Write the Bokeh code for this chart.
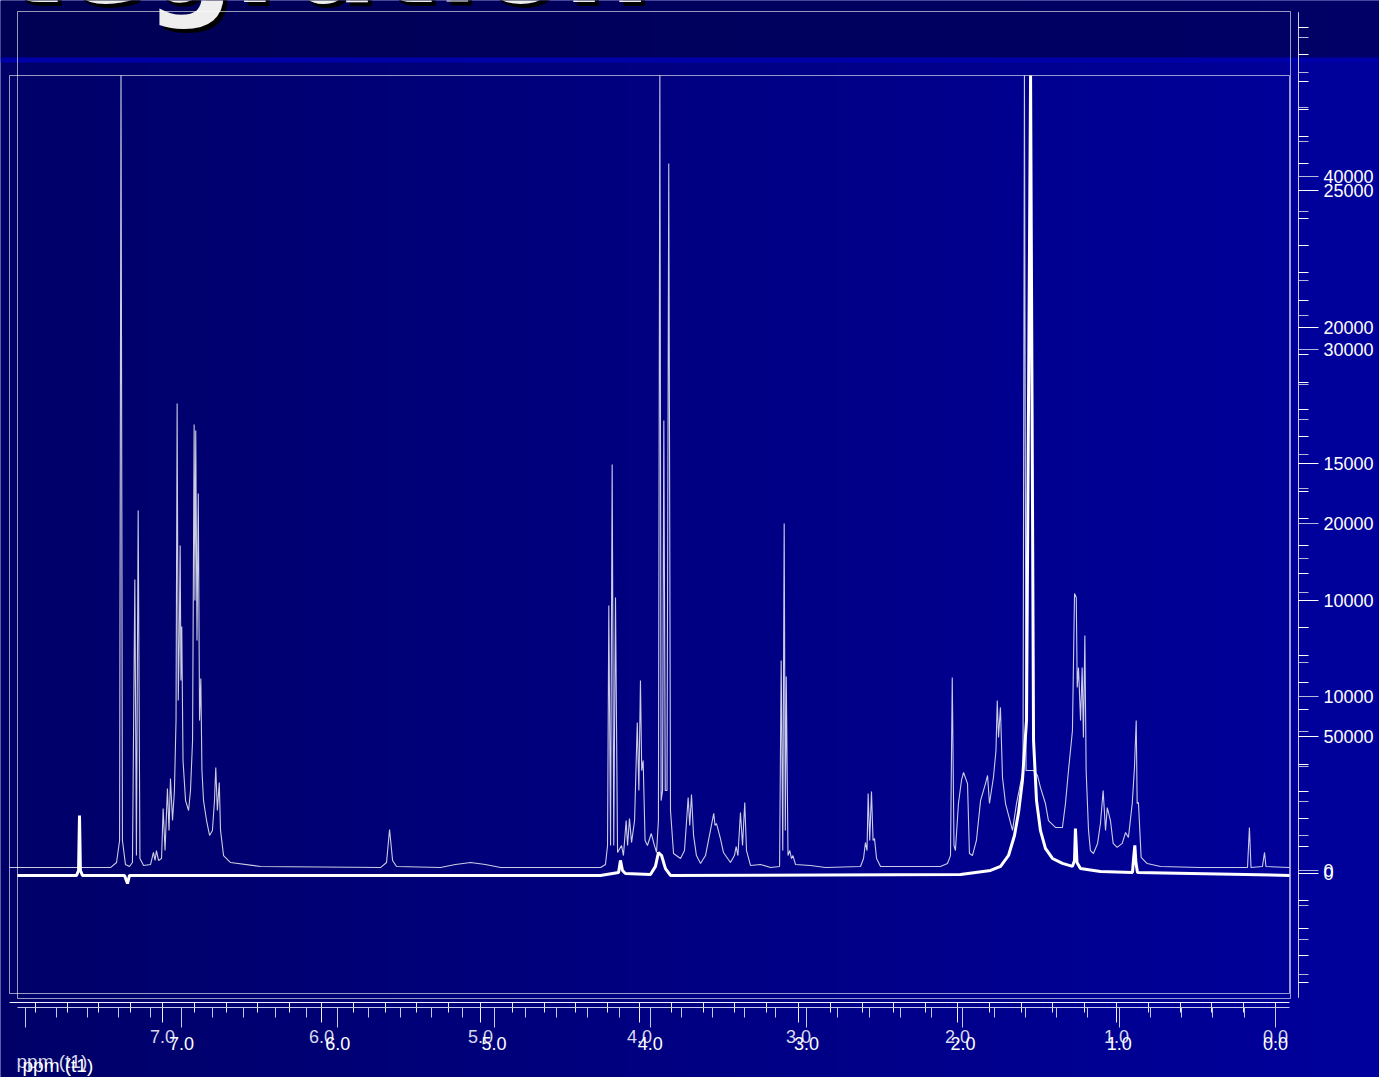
import numpy as np
from bokeh.plotting import figure
from bokeh.models import Range1d, LinearAxis, FixedTicker, Label, PrintfTickFormatter
from bokeh.core.properties import value
from bokeh.embed import file_html
from bokeh.resources import INLINE

W, H = 1379, 1077

# ---------------- data ----------------
title_text = "Integration"
axis_title = "ppm (t1)"

# spectrum 1 (smooth trace, ppm scale A / intensity axis 1)
s_ppm = [7.962, 7.327, 7.289, 7.270, 7.261, 7.252, 7.233, 7.208, 7.189, 7.174, 7.164, 7.153, 7.142, 7.119,
         7.075, 7.057, 7.047, 7.038, 7.025, 7.006, 6.996, 6.984, 6.969, 6.959, 6.950, 6.937, 6.925, 6.915,
         6.908, 6.901, 6.895, 6.889, 6.884, 6.879, 6.871, 6.855, 6.836, 6.824, 6.811, 6.801, 6.796, 6.791,
         6.783, 6.775, 6.767, 6.759, 6.752, 6.742, 6.723, 6.704, 6.686, 6.673, 6.665, 6.655, 6.643, 6.635,
         6.616, 6.572, 6.384, 5.629, 5.591, 5.572, 5.553, 5.528, 5.252, 5.157, 5.063, 4.969, 4.874, 4.245,
         4.214, 4.201, 4.193, 4.182, 4.172, 4.162, 4.151, 4.138, 4.113, 4.101, 4.084, 4.075, 4.063, 4.050,
         4.031, 4.014, 4.004, 3.994, 3.986, 3.977, 3.965, 3.950, 3.926, 3.906, 3.893, 3.881, 3.872, 3.864,
         3.855, 3.847, 3.838, 3.827, 3.816, 3.805, 3.786, 3.742, 3.717, 3.708, 3.694, 3.684, 3.673, 3.660,
         3.642, 3.616, 3.585, 3.560, 3.533, 3.525, 3.516, 3.491, 3.472, 3.428, 3.403, 3.392, 3.381, 3.365,
         3.352, 3.338, 3.327, 3.302, 3.239, 3.176, 3.119, 3.109, 3.099, 3.090, 3.083, 3.077, 3.066, 3.055,
         3.044, 3.035, 3.019, 2.925, 2.830, 2.610, 2.591, 2.579, 2.569, 2.562, 2.552, 2.541, 2.531, 2.522,
         2.509, 2.484, 2.107, 2.063, 2.044, 2.033, 2.022, 2.013, 1.994, 1.975, 1.962, 1.937, 1.925, 1.906,
         1.881, 1.855, 1.824, 1.811, 1.799, 1.774, 1.758, 1.750, 1.742, 1.730, 1.717, 1.698, 1.654, 1.629,
         1.604, 1.588, 1.579, 1.569, 1.547, 1.522, 1.497, 1.478, 1.447, 1.428, 1.384, 1.340, 1.321, 1.302,
         1.277, 1.264, 1.253, 1.247, 1.239, 1.226, 1.216, 1.208, 1.199, 1.191, 1.176, 1.164, 1.145, 1.119,
         1.101, 1.084, 1.069, 1.058, 1.038, 1.021, 0.996, 0.964, 0.943, 0.925, 0.901, 0.887, 0.876, 0.870,
         0.862, 0.845, 0.807, 0.723, 0.472, 0.176, 0.164, 0.154, 0.082, 0.069, 0.060, -0.088]
s_int = [170, 170, 460, 1730, 45820, 1730, 350, 230, 460, 16770, 860, 20750, 690, 290,
         350, 1040, 580, 1150, 580, 690, 3570, 1150, 4730, 2310, 5300, 2880, 4610, 8650,
         26920, 9800, 13080, 18730, 10950, 14060, 6340, 4030, 3460, 4610, 7490, 25710, 15560, 25360,
         13260, 21730, 8650, 11070, 5760, 4030, 2880, 2020, 2310, 4030, 5940, 3460, 5070, 2310,
         860, 460, 230, 170, 460, 2360, 580, 230, 170, 350, 460, 350, 170, 170,
         350, 1440, 15270, 1440, 23400, 1440, 15740, 1040, 1440, 860, 2880, 1440, 3000, 1610,
         2880, 8530, 4610, 10950, 5760, 6340, 1730, 1440, 2130, 1440, 1040, 2880, 45820, 4030,
         4610, 25940, 4610, 4610, 40750, 3460, 980, 690, 1150, 2310, 4210, 2590, 4380, 2020,
         860, 400, 860, 2020, 3290, 2590, 2710, 1840, 1040, 460, 860, 1380, 860, 3340,
         1440, 3920, 1150, 290, 350, 170, 230, 12100, 1150, 20000, 2310, 11180, 860, 1150,
         690, 860, 350, 290, 170, 230, 690, 1610, 1150, 4440, 1730, 4550, 1730, 1840,
         690, 230, 230, 400, 860, 11120, 1440, 1150, 3860, 5190, 5650, 5010, 980, 860,
         1730, 4030, 5010, 5480, 3860, 5360, 6920, 9800, 7670, 9400, 5360, 3860, 2310, 3860,
         5010, 5760, 45820, 5760, 5760, 5760, 5480, 4780, 3860, 2880, 2480, 2480, 3860, 5760,
         8070, 15970, 15740, 10550, 11700, 8650, 11700, 7670, 13540, 5760, 2310, 1150, 980, 1560,
         2710, 4610, 2310, 3630, 2880, 1560, 1330, 1560, 2190, 1900, 3860, 5940, 8650, 3860,
         3920, 750, 400, 230, 170, 170, 2480, 170, 230, 1040, 230, 170]

# spectrum 2 (noisy trace, ppm scale B / intensity axis 2)
n_ppm = [8.049, 7.671, 7.658, 7.652, 7.646, 7.633, 7.364, 7.345, 7.332, 4.319, 4.203, 4.191, 4.178, 4.159,
         3.999, 3.967, 3.948, 3.928, 3.903, 3.871, 2.015, 1.823, 1.759, 1.708, 1.670, 1.644, 1.619, 1.593,
         1.567, 1.548, 1.529, 1.504, 1.472, 1.427, 1.363, 1.299, 1.286, 1.280, 1.270, 1.248, 1.120, 0.915,
         0.909, 0.900, 0.893, 0.883, -0.090]
n_int = [-70, -70, 110, 2120, 110, -70, -70, -370, -70, -70, 40, 480, 110, 0,
         -40, 260, 770, 660, 180, -70, -40, 110, 260, 660, 1390, 2230, 3410, 5600,
         29230, 4870, 2670, 1580, 920, 550, 370, 260, 480, 1650, 400, 180, 70, 40,
         480, 1030, 400, 40, -70]

xA_major = [0, 1, 2, 3, 4, 5, 6, 7]
xA_minor = [round(0.2 * i, 1) for i in range(0, 40)]
xB_major = [0, 1, 2, 3, 4, 5, 6, 7, 8]
xB_minor = [round(0.2 * i, 1) for i in range(0, 41)]
xB_label_overrides = {8: ""}

y1_ticks = [0, 10000, 20000, 30000, 40000]
y1_labels = ["0", "10000", "20000", "30000", "40000"]
y1_minor = list(range(-6000, 50000, 2000))
y2_ticks = [0, 5000, 10000, 15000, 20000, 25000]
y2_labels = ["0", "50000", "10000", "15000", "20000", "25000"]
y2_minor = list(range(-4000, 32000, 1000))

# ---------------- figure ----------------
p = figure(width=W, height=H, output_backend="svg", toolbar_location=None,
           x_range=Range1d(0, W), y_range=Range1d(0, H),
           x_axis_type=None, y_axis_type=None, min_border=0,
           outline_line_color=None)
p.min_border_left = p.min_border_right = p.min_border_top = p.min_border_bottom = 0
p.background_fill_color = "#000080"
p.border_fill_color = "#000080"
p.extra_x_ranges = {"A": Range1d(8.0189, -0.6541), "B": Range1d(8.1574, -0.6654)}
p.extra_y_ranges = {"y1": Range1d(-11931, 50144), "y2": Range1d(-7473, 31978)}


def grad(c0, c1, n=256):
    t = np.linspace(0, 1, n)
    img = np.zeros((1, n), dtype=np.uint32)
    v = img.view(dtype=np.uint8).reshape((1, n, 4))
    for i in range(3):
        v[0, :, i] = np.round(c0[i] + (c1[i] - c0[i]) * t).astype(np.uint8)
    v[0, :, 3] = 255
    return img


# background
p.image_rgba(image=[grad((0, 0, 104), (0, 0, 156))], x=0, y=0, dw=W, dh=H)
p.image_rgba(image=[grad((0, 0, 84), (0, 0, 102))], x=0, y=H - 58, dw=W, dh=58)
p.quad(left=0, right=W, top=H - 57, bottom=H - 62, fill_color="#0000a8", line_color=None)

# title (cut at the top of the page, only its lower part shows)
p.text(x=[650 + 4], y=[H + 41 - 4], text=[title_text], text_color="black",
       text_font=value("DejaVu Sans"), text_font_style="bold", text_font_size="123px",
       text_align="right", text_baseline="alphabetic")
p.text(x=[650], y=[H + 41], text=[title_text], text_color="#eeeeee",
       text_font=value("DejaVu Sans"), text_font_style="bold", text_font_size="123px",
       text_align="right", text_baseline="alphabetic")

# plot frames
p.quad(left=17, right=1290, top=H - 11, bottom=H - 998, fill_color=None,
       line_color="white", line_alpha=0.6, line_width=1)
p.quad(left=9, right=1289, top=H - 75, bottom=H - 993, fill_color=None,
       line_color="white", line_alpha=0.6, line_width=1)

# spectra
p.line(s_ppm, s_int, x_range_name="A", y_range_name="y1", line_color="white",
       line_alpha=0.8, line_width=1.1)
p.line(n_ppm, n_int, x_range_name="B", y_range_name="y2", line_color="white",
       line_alpha=1.0, line_width=3)


def style_x(ax, col, lab_col):
    ax.axis_line_color = col
    ax.major_tick_line_color = col
    ax.minor_tick_line_color = col
    ax.major_tick_in = 0
    ax.major_tick_out = 20
    ax.minor_tick_in = 0
    ax.minor_tick_out = 10
    ax.major_label_standoff = 7
    ax.major_label_text_font = "Liberation Sans"
    ax.major_label_text_font_size = "18px"
    ax.major_label_text_color = lab_col


axA = LinearAxis(x_range_name="A", fixed_location=H - 1002, bounds=(-0.088, 7.962),
                 ticker=FixedTicker(ticks=xA_major, minor_ticks=xA_minor),
                 formatter=PrintfTickFormatter(format="%.1f"))
style_x(axA, "#f0f0ff", "#d8d8ec")
p.add_layout(axA, "below")

axB = LinearAxis(x_range_name="B", fixed_location=H - 1007, bounds=(-0.090, 8.049),
                 ticker=FixedTicker(ticks=xB_major, minor_ticks=xB_minor),
                 formatter=PrintfTickFormatter(format="%.1f"))
axB.major_label_overrides = xB_label_overrides
style_x(axB, "#c8c8e8", "#ffffff")
axB.major_label_standoff = 9
p.add_layout(axB, "below")


def style_y(ax, col):
    ax.axis_line_color = "#d0d0ec"
    ax.major_tick_line_color = col
    ax.minor_tick_line_color = col
    ax.major_tick_in = 0
    ax.major_tick_out = 20
    ax.minor_tick_in = 0
    ax.minor_tick_out = 10
    ax.major_label_standoff = 5
    ax.major_label_text_font = "Liberation Sans"
    ax.major_label_text_font_size = "18px"
    ax.major_label_text_color = "#ffffff"
    ax.major_label_text_baseline = "middle"


ax1 = LinearAxis(y_range_name="y1", fixed_location=1298, bounds=(-7320, 49452),
                 ticker=FixedTicker(ticks=y1_ticks, minor_ticks=y1_minor))
ax1.major_label_overrides = dict(zip(y1_ticks, y1_labels))
style_y(ax1, "#b8b8dc")
p.add_layout(ax1, "right")

ax2 = LinearAxis(y_range_name="y2", fixed_location=1298, bounds=(-4542, 31538),
                 ticker=FixedTicker(ticks=y2_ticks, minor_ticks=y2_minor))
ax2.major_label_overrides = dict(zip(y2_ticks, y2_labels))
style_y(ax2, "#ffffff")
p.add_layout(ax2, "right")

# axis titles (left aligned, as in the original)
p.add_layout(Label(x=16, y=H - 1061, text=axis_title, text_font="Liberation Sans",
                   text_font_size="19px", text_color="#d8d8ec", text_baseline="alphabetic"))
p.add_layout(Label(x=22, y=H - 1065, text=axis_title, text_font="Liberation Sans",
                   text_font_size="19px", text_color="#ffffff", text_baseline="alphabetic"))

open("out.html", "w").write(file_html(p, INLINE))
